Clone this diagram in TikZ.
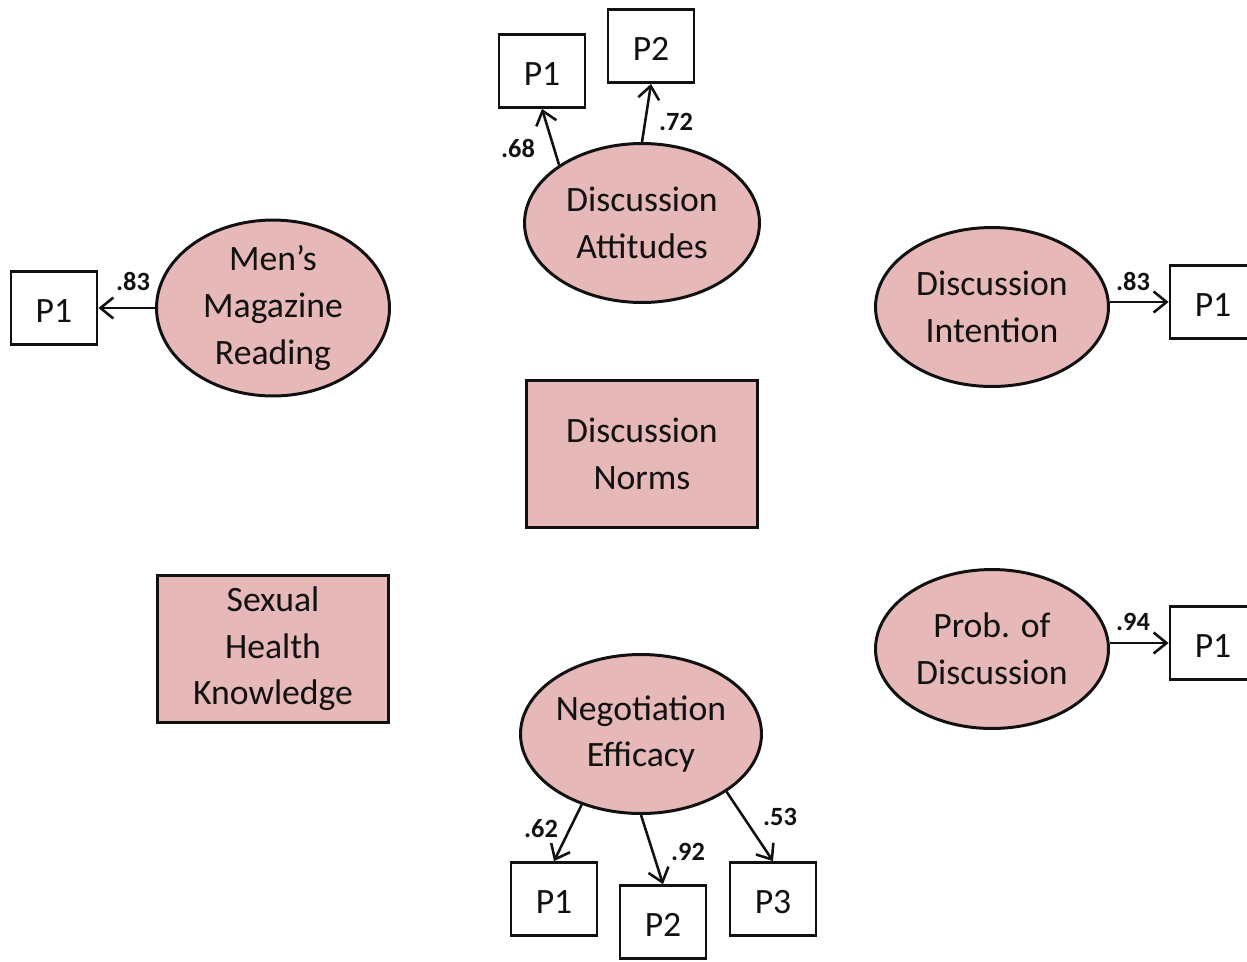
\documentclass[tikz,border=0pt]{standalone}
\usepackage{fontspec}
\setmainfont{Carlito}
\usetikzlibrary{shapes.geometric,arrows.meta}
\definecolor{latent}{HTML}{E6B8B7}
\definecolor{ink}{HTML}{111111}
\begin{document}
\begin{tikzpicture}[x=0.02cm,y=-0.02cm,
  every node/.style={text=ink},
  latentvar/.style={ellipse,draw=ink,line width=1.7pt,fill=latent,inner sep=0pt,
    minimum width=4.7cm,minimum height=3.18cm,align=center,
    font=\fontsize{20.3}{26.5}\selectfont},
  observed/.style={rectangle,draw=ink,line width=1.7pt,fill=latent,inner sep=0pt,
    minimum width=4.64cm,minimum height=2.93cm,align=center,
    font=\fontsize{20.3}{26.5}\selectfont},
  indicator/.style={rectangle,draw=ink,line width=1.6pt,fill=white,inner sep=0pt,
    minimum width=1.72cm,minimum height=1.46cm,text height=17pt,text depth=0pt,
    font=\fontsize{20.3}{24}\selectfont},
  loading/.style={inner sep=0pt,font=\fontsize{15}{18}\selectfont\bfseries},
  path/.style={draw=ink,line width=1.45pt,-{Straight Barb[length=2.6mm,width=4.2mm,line width=1.45pt]}}
]
\useasboundingbox (0,0) rectangle (1247,961);

% latent constructs
\node[latentvar] (da)  at (642,223) {Discussion\\Attitudes};
\node[latentvar,minimum width=4.66cm] (mmr) at (273,308) {Men’s\\Magazine\\Reading};
\node[latentvar,minimum width=4.66cm] (di)  at (992,307) {Discussion\\Intention};
\node[latentvar,minimum width=4.66cm] (pod) at (992,649) {Prob. of\\Discussion};
\node[latentvar,minimum width=4.82cm] (ne)  at (641,734) {Negotiation\\Efficacy};

% single-item constructs
\node[observed] (dn)  at (642,454) {Discussion\\Norms};
\node[observed] (shk) at (273,649) {Sexual\\Health\\Knowledge};

% indicators
\node[indicator] (dap1)  at (542,71)   {P1};
\node[indicator] (dap2)  at (651,46)   {P2};
\node[indicator] (mmrp1) at (54,308)   {P1};
\node[indicator] (dip1)  at (1213,302) {P1};
\node[indicator] (podp1) at (1213,643) {P1};
\node[indicator] (nep1)  at (554,899)  {P1};
\node[indicator] (nep2)  at (663,922)  {P2};
\node[indicator] (nep3)  at (773,899)  {P3};

% measurement paths
\draw[path] (da.145.7) -- (dap1.south);
\draw[path] (da.north) -- (dap2.south);
\draw[path] (mmr.west) -- (mmrp1.east);
\draw[path] (dip1.west -| di.east) -- (dip1.west);
\draw[path] (podp1.west -| pod.east) -- (podp1.west);
\draw[path] (ne.230.4) -- (nep1.north);
\draw[path] (ne.south) -- (nep2.north);
\draw[path] (ne.326.5) -- (nep3.north);

% standardized loadings
\node[loading] (l1) at (518,148)  {.68};
\node[loading] (l2) at (676,122)  {.72};
\node[loading] (l3) at (133,281)  {.83};
\node[loading] (l4) at (1133,281) {.83};
\node[loading] (l5) at (1133,622) {.94};
\node[loading] (l6) at (541,829)  {.62};
\node[loading] (l7) at (688,852)  {.92};
\node[loading] (l8) at (780,817)  {.53};
\end{tikzpicture}
\end{document}
